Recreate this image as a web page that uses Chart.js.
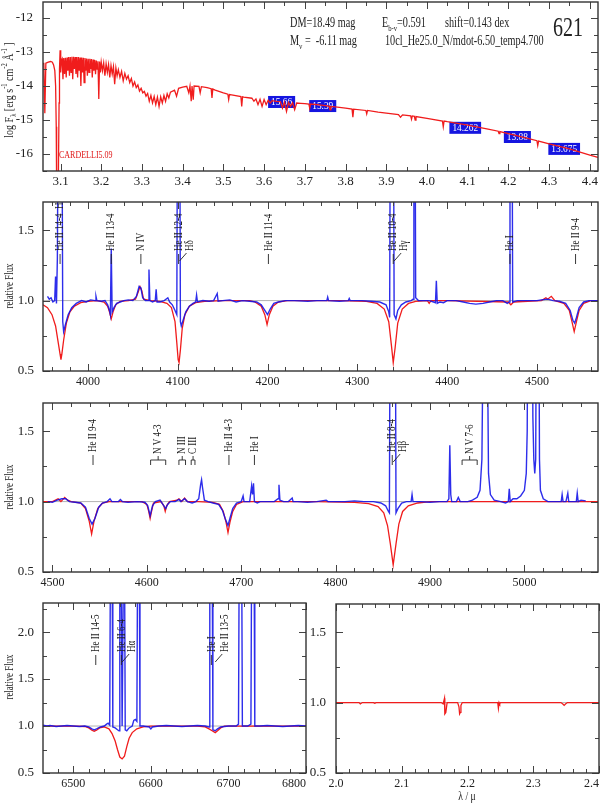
<!DOCTYPE html>
<html>
<head>
<meta charset="utf-8">
<script src="https://cdn.jsdelivr.net/npm/chart.js@4.4.1/dist/chart.umd.min.js"></script>
<style>
  html, body { margin: 0; padding: 0; background: #fff; overflow: hidden; }
  #wrap { position: relative; width: 600px; height: 806px; overflow: hidden; }
  canvas { position: absolute; }
</style>
</head>
<body>
<div id="wrap">
  <canvas id="sed" width="600" height="192" style="left:0;top:0"></canvas>
  <canvas id="blue1" width="600" height="200" style="left:0;top:195px"></canvas>
  <canvas id="blue2" width="600" height="200" style="left:0;top:395px"></canvas>
  <canvas id="halpha" width="310" height="211" style="left:0;top:595px"></canvas>
  <canvas id="kband" width="295" height="211" style="left:305px;top:595px"></canvas>
</div>
<script>
// ================= DATA =================
// SED: [log lambda, log F_lambda]
const sedModel = [
  [3.057,-13.35],[3.059,-13.32],[3.0615,-14.8],[3.064,-13.33],[3.07,-13.3],[3.076,-13.28],[3.08,-13.3],
  [3.083,-13.38],[3.086,-13.55],[3.088,-14.0],[3.0895,-15.2],[3.0905,-17],[3.0945,-17],[3.0965,-14.5],
  [3.0975,-13.5],[3.099,-12.95],[3.1,-13.15],[3.101,-13.6],[3.102,-13.25],
  [3.104,-13.2],[3.106,-13.8],[3.108,-13.18],[3.110,-13.65],[3.112,-13.17],[3.114,-13.75],[3.116,-13.16],
  [3.118,-13.55],[3.120,-13.15],[3.122,-13.7],[3.124,-13.15],[3.126,-13.6],[3.128,-13.14],[3.130,-13.8],
  [3.132,-13.14],[3.134,-13.5],[3.136,-13.15],[3.138,-13.65],[3.140,-13.15],[3.142,-13.75],[3.144,-13.15],
  [3.146,-13.55],[3.148,-13.16],[3.150,-14.0],[3.152,-13.16],[3.154,-13.6],[3.156,-13.17],[3.158,-13.9],
  [3.160,-13.18],[3.162,-13.55],[3.164,-13.19],[3.166,-13.7],[3.168,-13.2],[3.170,-13.6],[3.172,-13.2],
  [3.174,-13.5],[3.176,-13.21],[3.178,-13.75],[3.180,-13.22],[3.182,-13.55],[3.184,-13.24],[3.186,-13.65],
  [3.188,-13.25],[3.190,-13.5],[3.192,-13.27],[3.194,-14.38],[3.196,-13.28],[3.198,-13.6],[3.200,-13.3],
  [3.203,-13.55],[3.206,-13.32],[3.209,-13.7],[3.212,-13.35],[3.215,-13.6],[3.218,-13.37],[3.221,-13.75],
  [3.224,-13.4],[3.227,-13.65],[3.230,-13.43],[3.233,-13.95],[3.236,-13.47],[3.239,-13.7],[3.242,-13.52],
  [3.246,-13.75],[3.250,-13.57],[3.254,-13.85],[3.258,-13.63],[3.262,-13.8],[3.266,-13.7],[3.270,-13.9],
  [3.274,-13.78],[3.278,-14.0],[3.282,-13.88],[3.286,-14.05],[3.290,-13.97],[3.294,-14.15],[3.298,-14.07],
  [3.302,-14.2],[3.306,-14.16],[3.31,-14.3],[3.314,-14.22],[3.318,-14.45],[3.322,-14.28],[3.326,-14.5],
  [3.330,-14.31],[3.334,-14.55],[3.338,-14.33],[3.342,-14.6],[3.346,-14.32],[3.35,-14.5],[3.354,-14.28],
  [3.358,-14.45],[3.362,-14.23],[3.366,-14.35],[3.37,-14.18],[3.38,-14.12],[3.385,-14.3],[3.39,-14.07],
  [3.4,-14.03],[3.41,-14.01],[3.415,-14.2],[3.418,-14.0],[3.421,-14.45],[3.423,-14.0],[3.426,-14.4],
  [3.428,-14.0],[3.43,-14.0],[3.44,-14.01],[3.443,-14.2],[3.446,-14.02],[3.46,-14.05],[3.47,-14.08],
  [3.472,-14.35],[3.474,-14.09],[3.48,-14.12],[3.5,-14.2],[3.511,-14.24],[3.513,-14.4],[3.515,-14.25],
  [3.52,-14.26],[3.543,-14.31],[3.545,-14.6],[3.547,-14.32],[3.55,-14.33],[3.57,-14.36],[3.575,-14.45],
  [3.58,-14.38],[3.585,-14.55],[3.59,-14.39],[3.595,-14.6],[3.6,-14.4],[3.605,-14.55],[3.61,-14.42],
  [3.615,-14.5],[3.62,-14.43],[3.63,-14.45],[3.64,-14.46],[3.645,-14.65],[3.65,-14.47],[3.655,-14.75],
  [3.66,-14.48],[3.665,-14.6],[3.67,-14.49],[3.675,-14.7],[3.68,-14.5],[3.69,-14.51],[3.7,-14.52],
  [3.71,-14.53],[3.712,-14.65],[3.714,-14.53],[3.73,-14.55],[3.75,-14.58],[3.76,-14.6],[3.762,-14.7],
  [3.764,-14.6],[3.78,-14.62],[3.8,-14.65],[3.816,-14.68],[3.818,-14.92],[3.82,-14.68],[3.85,-14.72],
  [3.852,-14.82],[3.854,-14.72],[3.88,-14.77],[3.9,-14.8],[3.93,-14.84],[3.935,-14.92],[3.94,-14.85],
  [3.96,-14.88],[3.962,-14.98],[3.964,-14.88],[3.969,-14.89],[3.971,-15.0],[3.973,-14.9],[4.0,-14.95],
  [4.038,-15.03],[4.04,-15.2],[4.042,-15.03],[4.05,-15.05],[4.1,-15.15],[4.15,-15.27],[4.175,-15.33],
  [4.177,-15.4],[4.179,-15.34],[4.2,-15.4],[4.25,-15.55],[4.27,-15.61],[4.272,-15.75],[4.274,-15.62],
  [4.3,-15.7],[4.35,-15.85],[4.4,-16.03],[4.42,-16.1]
];
const photLogLam = [3.643, 3.744, 4.094, 4.222, 4.337];
const photLogF = [-14.47, -14.59, -15.23, -15.5, -15.85];
const photLabel = ["15.66", "15.39", "14.262", "13.88", "13.675"];

// blue range 1: [lambda / A, relative flux]
const p2Obs = [
  [3955,1.03],[3957,1.01],[3959,1.02],[3961,0.99],[3963,1.0],[3964,1.17],[3965,0.98],[3966,1.3],[3967,2.5],
  [3968,3],[3969,3],[3970,3],[3971,2.5],[3972,0.85],[3973,0.78],[3975,0.83],[3978,0.9],[3982,0.95],
  [3987,0.98],[3993,1.0],[3998,0.99],[4003,1.005],[4008,1.0],[4009,1.03],[4010,1.0],[4015,0.995],
  [4019,1.0],[4022,0.97],[4024,0.93],[4025,0.9],[4026,1.37],[4027,0.92],[4029,0.95],[4032,0.98],
  [4036,0.99],[4040,1.0],[4045,1.005],[4050,1.0],[4054,1.03],[4057,1.1],[4059,1.09],[4061,1.02],
  [4064,1.0],[4067,1.0],[4068,1.22],[4069,1.0],[4072,0.99],[4075,1.0],[4076,1.08],[4077,0.99],
  [4080,0.99],[4085,1.0],[4089,1.02],[4091,0.99],[4094,0.97],[4097,0.93],[4099,0.9],[4100,3],[4101,3],
  [4102,3],[4103,0.85],[4104,0.82],[4106,0.86],[4109,0.92],[4113,0.96],[4117,0.98],[4120,0.99],
  [4121,1.04],[4122,0.99],[4128,1.0],[4135,0.995],[4140,1.0],[4144,1.05],[4145,0.995],[4150,1.0],
  [4158,1.005],[4165,0.99],[4172,1.0],[4180,0.995],[4188,0.99],[4193,0.97],[4197,0.93],[4200,0.9],
  [4203,0.94],[4207,0.98],[4212,0.99],[4220,1.0],[4230,1.0],[4245,0.995],[4255,1.0],[4266,1.0],
  [4267,1.025],[4268,1.0],[4280,0.995],[4290,1.0],[4291,1.015],[4292,1.0],[4305,1.0],[4315,0.995],
  [4325,0.99],[4332,0.97],[4335,0.92],[4336,0.88],[4337,3],[4338,3],[4339,3],[4340,3],[4341,0.9],
  [4343,0.87],[4345,0.93],[4349,0.97],[4354,0.99],[4360,1.0],[4362,1.01],[4363,3],[4364,3],[4365,1.02],
  [4368,1.0],[4375,1.0],[4380,1.0],[4385,0.99],[4387,0.985],[4388,1.14],[4389,0.98],[4392,0.99],
  [4396,0.985],[4400,1.0],[4410,1.0],[4418,0.99],[4425,0.98],[4432,0.975],[4440,0.98],[4447,0.99],
  [4455,1.0],[4462,1.0],[4467,0.98],[4469,0.99],[4470,3],[4471,3],[4472,3],[4473,0.99],[4478,1.0],
  [4490,1.0],[4500,1.0],[4505,1.005],[4512,1.01],[4518,1.0],[4525,0.995],[4532,0.98],[4537,0.93],
  [4540,0.86],[4542,0.84],[4544,0.88],[4547,0.95],[4552,0.99],[4558,1.0],[4568,1.0]
];
const p2Model = [
  [3950,0.97],[3955,0.95],[3960,0.9],[3964,0.82],[3967,0.7],[3969,0.62],[3970,0.58],[3971,0.62],
  [3973,0.72],[3976,0.84],[3980,0.92],[3985,0.96],[3992,0.985],[4000,0.995],[4010,1.0],[4018,0.99],
  [4022,0.96],[4024,0.92],[4026,0.87],[4028,0.92],[4031,0.97],[4036,0.995],[4045,1.0],[4053,1.01],
  [4056,1.06],[4058,1.1],[4060,1.07],[4062,1.01],[4070,1.0],[4080,0.995],[4088,0.98],[4093,0.95],
  [4097,0.85],[4099,0.7],[4100.5,0.58],[4101.5,0.56],[4103,0.65],[4105,0.8],[4108,0.9],[4113,0.96],
  [4120,0.985],[4130,0.995],[4150,1.0],[4180,1.0],[4186,0.99],[4193,0.96],[4197,0.9],[4199.5,0.83],
  [4202,0.9],[4206,0.96],[4212,0.99],[4222,1.0],[4280,1.0],[4310,0.995],[4322,0.98],[4330,0.94],
  [4335,0.85],[4338,0.68],[4340,0.56],[4342,0.66],[4345,0.84],[4350,0.94],[4357,0.98],[4365,0.995],
  [4378,1.0],[4380,0.98],[4382,1.0],[4400,1.0],[4468,0.99],[4471,0.97],[4474,0.99],[4505,1.0],
  [4510,1.02],[4512,1.01],[4516,1.03],[4520,1.0],[4530,0.98],[4536,0.93],[4539,0.85],[4541.5,0.78],
  [4544,0.85],[4547,0.93],[4552,0.98],[4560,1.0],[4568,1.0]
];

// blue range 2
const p3Obs = [
  [4495,1.0],[4500,0.995],[4505,1.01],[4510,1.02],[4514,1.02],[4518,1.0],[4524,0.995],[4530,0.99],
  [4535,0.96],[4539,0.88],[4542,0.84],[4545,0.88],[4549,0.96],[4553,0.99],[4558,1.0],[4561,1.02],
  [4563,1.0],[4570,1.0],[4572,1.015],[4574,1.0],[4580,0.995],[4590,1.0],[4598,0.995],[4601,0.97],
  [4603.5,0.9],[4606,0.97],[4609,1.0],[4614,1.01],[4617,0.98],[4620,0.95],[4622,0.98],[4625,1.0],
  [4630,1.0],[4634,1.015],[4636,1.0],[4640,1.02],[4643,1.0],[4648,0.99],[4652,1.0],[4655,1.02],
  [4657,1.12],[4658,1.155],[4659,1.1],[4661,1.01],[4665,1.0],[4670,0.99],[4676,0.98],[4680,0.94],
  [4683,0.88],[4686,0.83],[4688,0.88],[4691,0.95],[4695,0.99],[4700,1.0],[4702,1.04],[4703,1.0],
  [4706,1.0],[4709,1.0],[4711,1.11],[4712,1.05],[4713,1.13],[4714,1.0],[4717,0.99],[4720,1.0],
  [4730,1.0],[4735,1.0],[4739,1.02],[4740,1.12],[4741,1.01],[4745,1.0],[4750,1.0],[4754,1.025],
  [4755,1.0],[4760,1.0],[4770,0.995],[4780,1.0],[4790,1.01],[4792,1.0],[4800,1.0],[4810,1.0],
  [4820,1.005],[4830,1.0],[4840,1.0],[4848,0.99],[4853,0.97],[4856,0.93],[4857,0.92],[4858,3],
  [4859,3],[4860,3],[4861,3],[4862,3],[4863,3],[4864,0.92],[4866,0.95],[4870,0.99],[4875,1.0],
  [4880,1.0],[4881,1.05],[4882,1.0],[4890,1.0],[4900,0.995],[4910,1.0],[4918,1.0],[4920,1.02],
  [4921,1.4],[4922,1.05],[4923,1.0],[4928,1.0],[4930,1.03],[4932,1.0],[4940,1.0],[4945,1.01],
  [4950,1.03],[4953,1.08],[4955,1.3],[4956,2.0],[4957,3],[4960,3],[4961,2],[4962,1.2],[4964,1.05],
  [4968,1.01],[4975,1.0],[4980,0.99],[4983,1.0],[4984,1.09],[4985,1.0],[4988,1.02],[4992,1.02],
  [4996,1.04],[5000,1.08],[5002,1.2],[5003,1.5],[5004,3],[5008,3],[5009,1.6],[5010,1.3],[5011,1.2],
  [5012,1.3],[5013,3],[5015,3],[5016,1.3],[5017,1.08],[5020,1.02],[5025,1.0],[5035,1.0],[5039,1.0],
  [5040,1.05],[5041,1.0],[5044,1.0],[5046,1.06],[5047,1.0],[5050,1.0],[5055,1.0],[5056,1.06],
  [5057,1.0],[5060,1.01],[5065,1.005]
];
const p3Model = [
  [4490,1.0],[4500,1.0],[4506,1.02],[4509,1.0],[4513,1.03],[4516,1.01],[4520,1.0],[4530,0.99],
  [4535,0.95],[4539,0.86],[4541.5,0.77],[4544,0.86],[4548,0.95],[4553,0.99],[4560,1.0],[4595,1.0],
  [4600,0.98],[4602,0.93],[4603.5,0.88],[4605,0.93],[4607,0.99],[4615,1.0],[4618,0.97],[4619.5,0.93],
  [4621,0.97],[4624,1.0],[4632,1.01],[4634,1.02],[4637,1.0],[4640,1.025],[4643,1.0],[4655,1.0],
  [4670,0.995],[4677,0.98],[4681,0.93],[4684,0.85],[4686,0.78],[4688,0.85],[4691,0.93],[4695,0.98],
  [4702,1.0],[4780,1.0],[4820,0.995],[4835,0.985],[4845,0.965],[4851,0.92],[4855,0.83],[4858,0.7],
  [4860,0.6],[4861,0.55],[4862,0.6],[4864,0.7],[4867,0.84],[4871,0.93],[4877,0.97],[4887,0.99],
  [4900,1.0],[5078,1.0]
];

// H alpha range
const p4Obs = [
  [6461,1.01],[6466,1.0],[6470,1.005],[6478,0.995],[6485,1.0],[6492,1.005],[6500,1.0],[6508,0.995],
  [6515,1.0],[6520,0.99],[6524,0.97],[6527,0.96],[6530,0.97],[6535,0.99],[6540,1.0],[6543,1.02],
  [6545,1.03],[6547,1.01],[6548,3],[6550,3],[6551,0.99],[6554,0.98],[6557,0.96],[6559,0.95],[6560,3],
  [6561.5,3],[6563,1.0],[6565,3],[6566,3],[6567,0.96],[6569,0.95],[6572,0.98],[6576,1.0],[6578,1.06],
  [6580,1.07],[6582,1.05],[6583,3],[6585,3],[6586,1.0],[6590,1.0],[6598,0.99],[6600,0.97],[6602,0.99],
  [6610,1.0],[6620,1.005],[6630,1.0],[6640,0.995],[6650,1.0],[6660,1.005],[6670,1.0],[6675,0.99],
  [6676,3],[6679,3],[6680,0.96],[6683,0.95],[6686,0.97],[6690,0.99],[6700,1.0],[6710,1.0],[6713,1.02],
  [6714,3],[6717,3],[6718,1.0],[6725,1.0],[6729,1.02],[6730,3],[6733,3],[6734,1.0],[6740,1.0],
  [6750,1.005],[6760,1.0],[6770,0.995],[6780,1.0],[6790,1.005],[6800,1.0]
];
const p4Model = [
  [6461,1.0],[6500,1.0],[6515,0.995],[6520,0.98],[6524,0.955],[6527,0.945],[6530,0.955],[6534,0.98],
  [6540,0.99],[6546,0.97],[6550,0.92],[6554,0.84],[6557,0.75],[6560,0.67],[6563,0.65],[6566,0.68],
  [6569,0.78],[6572,0.87],[6576,0.93],[6582,0.97],[6590,0.99],[6600,1.0],[6660,1.0],[6670,0.99],
  [6675,0.97],[6679,0.95],[6683,0.93],[6686,0.95],[6690,0.98],[6695,1.0],[6800,1.0]
];

// K band: [lambda / micron, relative flux]
const p5Model = [
  [2.0,1.0],[2.035,1.0],[2.037,0.99],[2.04,1.0],[2.057,1.0],[2.059,0.995],[2.061,1.0],[2.16,1.0],
  [2.163,0.99],[2.165,1.03],[2.1655,0.92],[2.167,0.93],[2.169,1.0],[2.185,1.0],[2.187,0.97],
  [2.188,0.92],[2.189,0.93],[2.19,0.98],[2.192,1.0],[2.246,1.0],[2.247,0.96],[2.248,1.0],[2.249,0.99],
  [2.25,1.0],[2.342,1.0],[2.345,0.99],[2.347,0.98],[2.349,0.99],[2.352,1.0],[2.4,1.0]
];

// tick labels
const p1XTicks = [3.1, 3.2, 3.3, 3.4, 3.5, 3.6, 3.7, 3.8, 3.9, 4.0, 4.1, 4.2, 4.3, 4.4];
const p1YTicks = [-16, -15, -14, -13, -12];
const p2XTicks = [4000, 4100, 4200, 4300, 4400, 4500];
const p3XTicks = [4500, 4600, 4700, 4800, 4900, 5000];
const p4XTicks = [6500, 6600, 6700, 6800];
const p5XTicks = [2.0, 2.1, 2.2, 2.3, 2.4];
const relYTicks = [0.5, 1.0, 1.5];
const p4YTicks = [0.5, 1.0, 1.5, 2.0];

// line identifications
const p2LineText = ["He II 14-4  H\u03b5", "He II 13-4", "N IV", "He II 12-4", "H\u03b4", "He II 11-4",
                    "He II 10-4", "H\u03b3", "He I", "He II 9-4"];
const p2LineLam = [[3969], [4026], [4059], [4101], [4102], [4201], [4340], [4341], [4470], [4543]];
const p3LineText = ["He II 9-4", "N V 4-3", "N III", "C III", "He II 4-3", "He I", "He II 8-4", "H\u03b2", "N V 7-6"];
const p3LineLam = [[4543], [4604, 4620], [4634, 4641], [4647, 4651], [4687], [4714], [4860], [4861], [4934, 4950]];
const p4LineText = ["He II 14-5", "He II 6-4", "H\u03b1", "He I", "He II 13-5"];
const p4LineLam = [[6529], [6562], [6563], [6678], [6683]];

// ================= HELPERS =================
const SERIF = '"Liberation Serif", "Times New Roman", serif';
const INK = "#222";

function pts(arr) {
  return arr.map(p => ({ x: p[0], y: p[1] }));
}

// rich text: pieces = [[text, 'sub'|'sup'|undefined], ...], condensed by sx along the baseline
function drawRich(ctx, pieces, x, y, size, sx, opts = {}) {
  ctx.save();
  ctx.translate(x, y);
  if (opts.angle) ctx.rotate(opts.angle);
  ctx.scale(sx, 1);
  ctx.fillStyle = opts.color || INK;
  ctx.textBaseline = opts.baseline || "alphabetic";
  ctx.textAlign = "left";
  const fontFor = k => (k ? size * 0.65 : size) + "px " + SERIF;
  let total = 0;
  pieces.forEach(([t, k]) => { ctx.font = fontFor(k); total += ctx.measureText(t).width; });
  let cx = opts.center ? -total / 2 : 0;
  pieces.forEach(([t, k]) => {
    ctx.font = fontFor(k);
    const dy = k === "sub" ? size * 0.28 : k === "sup" ? -size * 0.4 : 0;
    ctx.fillText(t, cx, dy);
    cx += ctx.measureText(t).width;
  });
  ctx.restore();
  return total * sx;
}

function vText(ctx, t, x, y) {
  drawRich(ctx, [[t]], x, y, 12, 0.75, { angle: -Math.PI / 2, baseline: "middle" });
}

function stepValues(min, max, step) {
  const out = [];
  for (let k = Math.ceil(min / step - 1e-6); k <= Math.floor(max / step + 1e-6); k++) out.push(k * step);
  return out;
}

function drawFrame(chart, cfg) {
  const { ctx, chartArea: a, scales: { x, y } } = chart;
  ctx.save();
  ctx.strokeStyle = "#444";
  ctx.lineWidth = 1;
  ctx.beginPath();
  stepValues(cfg.xMin, cfg.xMax, cfg.xMinor).forEach(v => {
    const px = Math.round(x.getPixelForValue(v)) + 0.5;
    const len = cfg.xTicks.some(t => Math.abs(t - v) < cfg.xMinor * 0.01) ? 7 : 4;
    ctx.moveTo(px, a.bottom); ctx.lineTo(px, a.bottom - len);
    ctx.moveTo(px, a.top); ctx.lineTo(px, a.top + len);
  });
  stepValues(cfg.yMin, cfg.yMax, cfg.yMinor).forEach(v => {
    const py = Math.round(y.getPixelForValue(v)) + 0.5;
    const len = cfg.yTicks.some(t => Math.abs(t - v) < cfg.yMinor * 0.01) ? 7 : 4;
    ctx.moveTo(a.left, py); ctx.lineTo(a.left + len, py);
    ctx.moveTo(a.right, py); ctx.lineTo(a.right - len, py);
  });
  ctx.stroke();
  ctx.strokeStyle = "#333";
  ctx.lineWidth = 1.4;
  ctx.strokeRect(a.left, a.top, a.right - a.left, a.bottom - a.top);
  ctx.restore();
}

function drawLineLabels(chart, texts, lams) {
  const { ctx, chartArea: a, scales: { x } } = chart;
  ctx.save();
  ctx.beginPath();
  ctx.rect(a.left, a.top, a.right - a.left, a.bottom - a.top);
  ctx.clip();
  ctx.strokeStyle = INK;
  ctx.lineWidth = 0.9;
  const base = a.top + 62;
  let prev = null;
  texts.forEach((t, i) => {
    const lam = lams[i];
    if (lam.length === 2) {
      const x0 = x.getPixelForValue(lam[0]), x1 = x.getPixelForValue(lam[1]), xm = (x0 + x1) / 2;
      const yb = base - 5;
      ctx.beginPath();
      ctx.moveTo(x0, base); ctx.lineTo(x0, yb); ctx.lineTo(x1, yb); ctx.lineTo(x1, base);
      ctx.moveTo(xm, yb); ctx.lineTo(xm, yb - 4);
      ctx.stroke();
      vText(ctx, t, xm, yb - 6);
      prev = null;
    } else if (prev !== null && Math.abs(lam[0] - prev) < 6) {
      const px = x.getPixelForValue(lam[0]);
      ctx.beginPath(); ctx.moveTo(px, base - 3); ctx.lineTo(px + 7, base - 11); ctx.stroke();
      vText(ctx, t, px + 10, base - 13);
      prev = null;
    } else {
      const px = x.getPixelForValue(lam[0]);
      ctx.beginPath(); ctx.moveTo(px, base); ctx.lineTo(px, base - 10); ctx.stroke();
      vText(ctx, t, px, base - 13);
      prev = lam[0];
    }
  });
  ctx.restore();
}

// ================= PANEL FACTORY =================
function makePanel(id, cfg) {
  const datasets = [];
  if (cfg.obs) datasets.push({ data: pts(cfg.obs), borderColor: "rgba(16,16,232,0.88)", borderWidth: 1.4 });
  datasets.push({ data: pts(cfg.model), borderColor: "#f01c1c", borderWidth: 1.3 });
  if (cfg.unity) datasets.push({ data: [{ x: cfg.xMin, y: 1 }, { x: cfg.xMax, y: 1 }], borderColor: "#a0a0a0", borderWidth: 0.8 });
  datasets.forEach(d => { d.showLine = true; d.pointRadius = 0; d.tension = 0; d.fill = false; });

  const decor = {
    id: "decor",
    beforeDatasetsDraw(chart) { if (cfg.beforeMarks) cfg.beforeMarks(chart); },
    afterDatasetsDraw(chart) {
      drawFrame(chart, cfg);
      if (cfg.lineText) drawLineLabels(chart, cfg.lineText, cfg.lineLam);
    },
    afterDraw(chart) { if (cfg.titles) cfg.titles(chart); }
  };

  return new Chart(document.getElementById(id), {
    type: "scatter",
    data: { datasets },
    options: {
      responsive: false,
      animation: false,
      events: [],
      layout: { padding: cfg.pad },
      plugins: { legend: { display: false }, tooltip: { enabled: false } },
      scales: {
        x: {
          type: "linear", min: cfg.xMin, max: cfg.xMax,
          grid: { display: false, drawTicks: false }, border: { display: false },
          afterFit: s => { s.height = cfg.xH; s.paddingLeft = 0; s.paddingRight = 0; },
          afterBuildTicks: s => {
            const t = cfg.xTicks.map(v => ({ value: v }));
            if (cfg.xAlign === "inner") t.unshift({ value: cfg.xMin, blank: true });
            s.ticks = t;
          },
          ticks: {
            autoSkip: false, maxRotation: 0, padding: cfg.xPad || 4, align: cfg.xAlign || "center",
            color: INK, font: { size: cfg.xFont || 12, family: SERIF },
            callback: (v, i, all) => (all[i] && all[i].blank ? "" : cfg.xFmt(v))
          }
        },
        y: {
          type: "linear", min: cfg.yMin, max: cfg.yMax,
          grid: { display: false, drawTicks: false }, border: { display: false },
          afterFit: s => { s.width = cfg.yW; s.paddingTop = 0; s.paddingBottom = 0; },
          afterBuildTicks: s => { s.ticks = cfg.yTicks.map(v => ({ value: v })); },
          ticks: {
            autoSkip: false, padding: cfg.yPad || 9, color: INK,
            font: { size: 13, family: SERIF }, callback: v => cfg.yFmt(v)
          }
        }
      }
    },
    plugins: [decor]
  });
}

function relFluxTitle(cy) {
  return chart => drawRich(chart.ctx, [["relative Flux"]], 10, cy, 12, 0.74,
    { angle: -Math.PI / 2, baseline: "middle", center: true });
}

// ================= SED PANEL =================
makePanel("sed", {
  model: sedModel,
  xMin: 3.057, xMax: 4.42, yMin: -16.5, yMax: -11.53,
  xTicks: p1XTicks, yTicks: p1YTicks, xMinor: 0.05, yMinor: 0.5,
  xFmt: v => v.toFixed(1), yFmt: v => String(v), xFont: 13, yPad: 10, xPad: 3,
  pad: { top: 2, right: 2, left: 0, bottom: 0 }, xH: 21, yW: 43,
  beforeMarks: chart => {
    const { ctx, scales: { x, y } } = chart;
    ctx.save();
    photLabel.forEach((t, i) => {
      const px = x.getPixelForValue(photLogLam[i]), py = y.getPixelForValue(photLogF[i]);
      ctx.font = "11px " + SERIF;
      const w = ctx.measureText(t).width * 0.85 + 6;
      ctx.fillStyle = "#1515e0";
      ctx.fillRect(px - w / 2, py - 6, w, 12);
      drawRich(ctx, [[t]], px, py + 0.5, 11, 0.85, { color: "#fff", baseline: "middle", center: true });
    });
    ctx.restore();
  },
  titles: chart => {
    const ctx = chart.ctx;
    drawRich(ctx, [["log F"], ["\u03bb", "sub"], [" [erg s"], ["-1", "sup"], [" cm"], ["-2", "sup"], [" \u00c5"], ["-1", "sup"], [" ]"]],
      10, 90, 13, 0.77, { angle: -Math.PI / 2, baseline: "middle", center: true });
    drawRich(ctx, [["DM=18.49 mag"]], 290, 27, 14, 0.73);
    drawRich(ctx, [["E"], ["b-v", "sub"], ["=0.591"]], 382, 27, 14, 0.73);
    drawRich(ctx, [["shift=0.143 dex"]], 445, 27, 14, 0.73);
    drawRich(ctx, [["M"], ["v", "sub"], [" =  -6.11 mag"]], 290, 45, 14, 0.73);
    drawRich(ctx, [["10cl_He25.0_N/mdot-6.50_temp4.700"]], 385, 45, 14, 0.73);
    drawRich(ctx, [["621"]], 553, 36, 27, 0.74);
    drawRich(ctx, [["CARDELLI5.09"]], 59, 158, 10, 0.8, { color: "#e01818" });
  }
});

// ================= BLUE RANGE 1 =================
makePanel("blue1", {
  obs: p2Obs, model: p2Model, unity: true,
  xMin: 3950, xMax: 4568, yMin: 0.5, yMax: 1.70,
  xTicks: p2XTicks, yTicks: relYTicks, xMinor: 20, yMinor: 0.25,
  xFmt: v => String(v), yFmt: v => v.toFixed(1),
  pad: { top: 7, right: 2, left: 0, bottom: 0 }, xH: 24, yW: 43,
  lineText: p2LineText, lineLam: p2LineLam,
  titles: relFluxTitle(91)
});

// ================= BLUE RANGE 2 =================
makePanel("blue2", {
  obs: p3Obs, model: p3Model, unity: true,
  xMin: 4490, xMax: 5078, yMin: 0.5, yMax: 1.70,
  xTicks: p3XTicks, yTicks: relYTicks, xMinor: 20, yMinor: 0.25,
  xFmt: v => String(v), yFmt: v => v.toFixed(1),
  pad: { top: 8, right: 2, left: 0, bottom: 0 }, xH: 23, yW: 43,
  lineText: p3LineText, lineLam: p3LineLam,
  titles: relFluxTitle(92)
});

// ================= H ALPHA =================
makePanel("halpha", {
  obs: p4Obs, model: p4Model, unity: true,
  xMin: 6461, xMax: 6800, yMin: 0.5, yMax: 2.31,
  xTicks: p4XTicks, yTicks: p4YTicks, xMinor: 20, yMinor: 0.25, xAlign: "inner",
  xFmt: v => String(v), yFmt: v => v.toFixed(1),
  pad: { top: 8, right: 4, left: 0, bottom: 0 }, xH: 33, yW: 43,
  lineText: p4LineText, lineLam: p4LineLam,
  titles: relFluxTitle(82)
});

// ================= K BAND =================
makePanel("kband", {
  model: p5Model, unity: true,
  xMin: 2.0, xMax: 2.4, yMin: 0.5, yMax: 1.70,
  xTicks: p5XTicks, yTicks: relYTicks, xMinor: 0.02, yMinor: 0.25, xAlign: "inner",
  xFmt: v => v.toFixed(1), yFmt: v => v.toFixed(1), yPad: 10,
  pad: { top: 9, right: 1, left: 0, bottom: 0 }, xH: 33, yW: 31,
  titles: chart => drawRich(chart.ctx, [["\u03bb / \u03bc"]], 162, 202, 12, 0.8, { baseline: "middle", center: true })
});
</script>
</body>
</html>
